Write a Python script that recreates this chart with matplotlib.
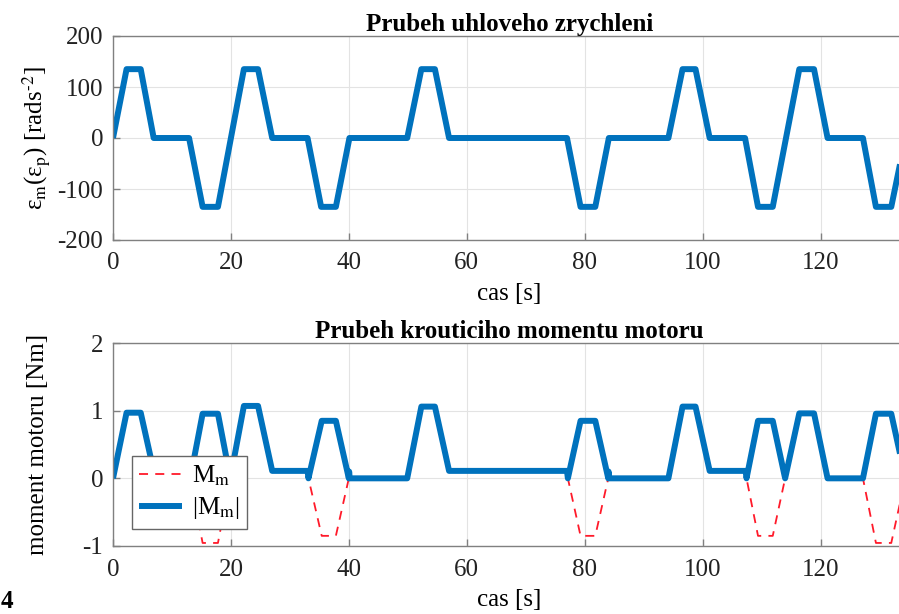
import numpy as np
import matplotlib
matplotlib.use("Agg")
import matplotlib.pyplot as plt

plt.rcParams['font.family'] = ['Liberation Serif', 'DejaVu Serif']
plt.rcParams['mathtext.fontset'] = 'stix'
plt.rcParams['axes.unicode_minus'] = False

# ---- data ----
t_eps = [0, 2.3, 4.7, 6.9, 12.9, 15.2, 17.8, 22.2, 24.6, 27.0, 33.0, 35.3, 37.8, 40.1,
         49.9, 52.3, 54.6, 57.0, 77.0, 79.3, 81.8, 84.1, 94.2, 96.6, 98.8, 101.2,
         107.2, 109.4, 111.9, 116.4, 118.9, 121.2, 127.2, 129.4, 132.0, 134.4]
eps = [0, 135, 135, 0, 0, -135, -135, 135, 135, 0, 0, -135, -135, 0,
       0, 135, 135, 0, 0, -135, -135, 0, 0, 135, 135, 0,
       0, -135, -135, 135, 135, 0, 0, -135, -135, 0]

t_m = [0, 2.3, 4.7, 6.9, 12.9, 13.1, 15.2, 17.8, 19.9, 22.2, 24.6, 27.0,
       33.0, 33.15, 35.4, 37.8, 40.0, 40.05, 40.15, 49.9, 52.3, 54.6, 57.0,
       77.0, 77.15, 79.3, 81.8, 84.0, 84.05, 84.15, 94.2, 96.6, 98.8, 101.2,
       107.3, 107.45, 109.4, 111.9, 114.0, 116.4, 118.9, 121.2, 127.2, 129.4, 132.0, 134.4]
M_m = [0, 0.97, 0.97, 0.11, 0.11, 0, -0.955, -0.955, 0, 1.07, 1.07, 0.11,
       0.11, 0, -0.85, -0.85, 0, 0.1, 0, 0, 1.06, 1.06, 0.11,
       0.11, 0, -0.85, -0.85, 0, 0.1, 0, 0, 1.06, 1.06, 0.11,
       0.11, 0, -0.85, -0.85, 0, 0.96, 0.96, 0, 0, -0.955, -0.955, 0]
M_abs = [0, 0.97, 0.97, 0.11, 0.11, 0, 0.955, 0.955, 0, 1.07, 1.07, 0.11,
         0.11, 0, 0.85, 0.85, 0, 0.1, 0, 0, 1.06, 1.06, 0.11,
         0.11, 0, 0.85, 0.85, 0, 0.1, 0, 0, 1.06, 1.06, 0.11,
         0.11, 0, 0.85, 0.85, 0, 0.96, 0.96, 0, 0, 0.955, 0.955, 0]

xticks = [0, 20, 40, 60, 80, 100, 120]
yticks_top = [-200, -100, 0, 100, 200]
yticks_bot = [-1, 0, 1, 2]

blue = '#0072BD'
spine_c = '#808080'
W, H = 899, 614
fig = plt.figure(figsize=(W / 100, H / 100), dpi=100)

def pos(l, r, t, b):
    return [l / W, 1 - b / H, (r - l) / W, (b - t) / H]

ax1 = fig.add_axes(pos(113, 906, 36, 240))
ax2 = fig.add_axes(pos(113, 906, 343, 546))

fs = 18

def style(ax, yt, ylim):
    ax.set_xlim(0, 134.5)
    ax.set_ylim(*ylim)
    ax.set_xticks(xticks)
    ax.set_yticks(yt)
    ax.grid(True, color='#e3e3e3', linewidth=0.8)
    ax.set_axisbelow(True)
    for s in ax.spines.values():
        s.set_color(spine_c)
        s.set_linewidth(1.0)
    ax.tick_params(direction='in', length=5, width=1.0, color=spine_c,
                   labelsize=fs, labelcolor='#222222')
    ax.tick_params(axis='x', pad=9)
    ax.tick_params(axis='y', pad=7)

ax1.plot(t_eps, eps, color=blue, linewidth=4.3, solid_joinstyle='round', solid_capstyle='butt')
style(ax1, yticks_top, (-200, 200))
ax1.set_title('Prubeh uhloveho zrychleni', fontsize=fs, fontweight='bold', pad=3)
ax1.set_xlabel('cas [s]', fontsize=fs, labelpad=6)
ax1.set_ylabel('ε$_{\\rm m}$(ε$_{\\rm p}$) [rads$^{\u2010 2}$]', fontsize=fs, labelpad=4)

ax2.plot(t_m, M_m, color='#ff1a2a', linestyle=(0, (5, 4)), linewidth=1.3, label='M$_{\\rm m}$')
ax2.plot(t_m, M_abs, color=blue, linewidth=4.3, label='|M$_{\\rm m}$|',
         solid_joinstyle='round', solid_capstyle='butt')
style(ax2, yticks_bot, (-1, 2))
ax2.set_title('Prubeh krouticiho momentu motoru', fontsize=fs, fontweight='bold', pad=3)
ax2.set_xlabel('cas [s]', fontsize=fs, labelpad=6)
ax2.set_ylabel('moment motoru [Nm]', fontsize=fs, labelpad=24)

leg = ax2.legend(loc='lower left', bbox_to_anchor=(0.0236, 0.084), borderaxespad=0,
                 fontsize=fs, fancybox=False, framealpha=1, edgecolor='#666666',
                 handlelength=1.7, borderpad=0.3, labelspacing=0.3, handletextpad=0.4)
leg.get_frame().set_linewidth(1.0)

fig.text(0.001, (H - 601) / H, '4', fontsize=fs, fontweight='bold', va='center', ha='left')

fig.savefig('out.png', dpi=100)
